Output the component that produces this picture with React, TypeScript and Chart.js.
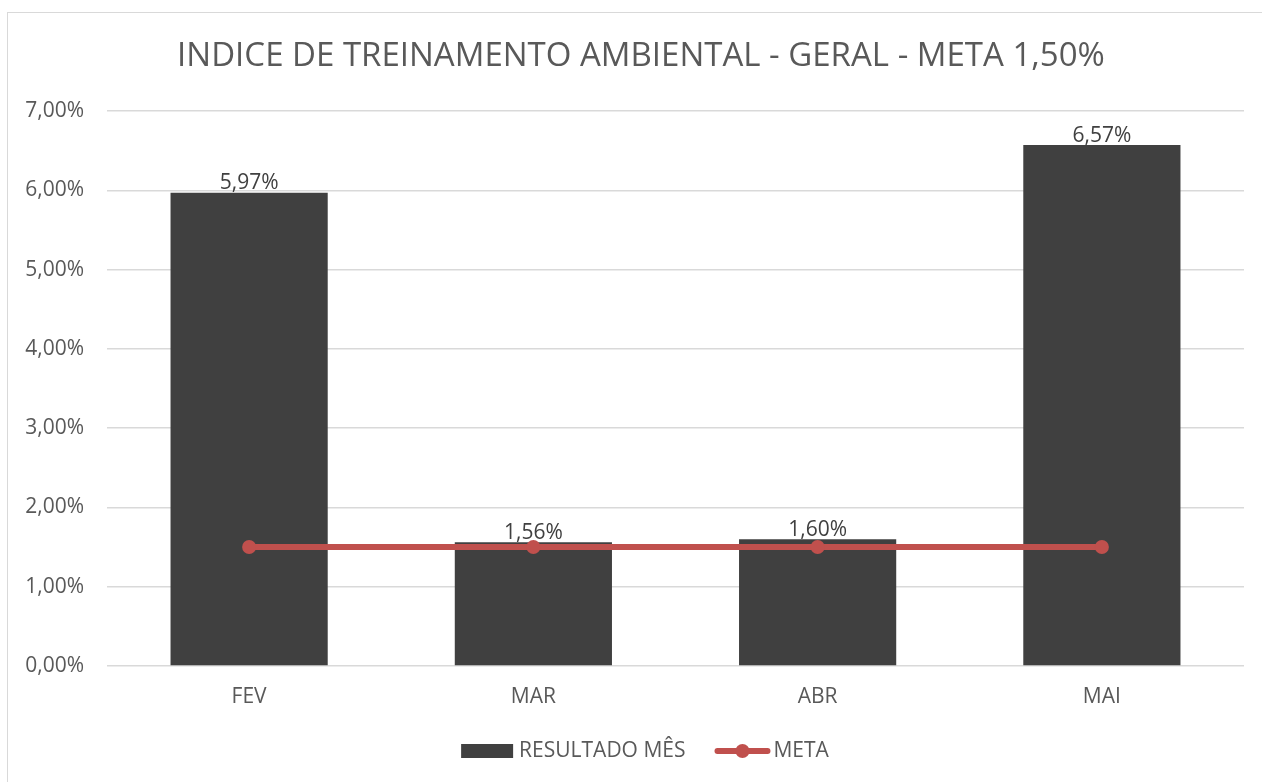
import React, { useEffect, useRef } from "react";
import { Chart, registerables } from "chart.js";

Chart.register(...registerables);

const TITLE = "INDICE DE TREINAMENTO AMBIENTAL - GERAL - META 1,50%";
const categories = ["FEV", "MAR", "ABR", "MAI"];
const resultadoMes = [5.97, 1.56, 1.6, 6.57];
const meta = [1.5, 1.5, 1.5, 1.5];
const yTicks = [0, 1, 2, 3, 4, 5, 6, 7];

const BAR_COLOR = "#404040";
const LINE_COLOR = "#C0504D";
const TEXT_COLOR = "#595959";
const GRID_COLOR = "#D9D9D9";
const FONT = "'Open Sans', 'Noto Sans', sans-serif";

const fmt = (v: number) => v.toFixed(2).replace(".", ",") + "%";

const titlePlugin = {
  id: "centeredTitle",
  afterDraw(chart: any) {
    const ctx = chart.ctx;
    const tb = chart.titleBlock;
    const y = tb ? tb.top + 37 + 19.8 : 56.8;
    ctx.save();
    ctx.font = `33px ${FONT}`;
    ctx.fillStyle = TEXT_COLOR;
    ctx.textAlign = "center";
    ctx.textBaseline = "middle";
    ctx.fillText(TITLE, 641, y);
    ctx.restore();
  },
};

const dataLabelPlugin = {
  id: "dataLabels",
  afterDatasetDraw(chart: any, args: any) {
    if (args.index !== 0) return;
    const ctx = chart.ctx;
    const meta0 = chart.getDatasetMeta(0);
    ctx.save();
    ctx.font = `21px ${FONT}`;
    ctx.fillStyle = BAR_COLOR;
    ctx.textAlign = "center";
    ctx.textBaseline = "bottom";
    meta0.data.forEach((el: any, i: number) => {
      ctx.fillText(fmt(resultadoMes[i]), el.x, el.y + 1);
    });
    ctx.restore();
  },
};

const legendPlugin = {
  id: "customLegend",
  afterDraw(chart: any) {
    const ctx = chart.ctx;
    const y = 751;
    ctx.save();
    ctx.font = `21px ${FONT}`;
    ctx.textBaseline = "middle";
    ctx.textAlign = "left";
    const l0 = chart.data.datasets[0].label;
    const l1 = chart.data.datasets[1].label;
    const w0 = ctx.measureText(l0).width;
    const w1 = ctx.measureText(l1).width;
    const total = 52 + 6 + w0 + 29 + 56 + 3 + w1;
    let x = 645 - total / 2;
    ctx.fillStyle = BAR_COLOR;
    ctx.fillRect(x, y - 7, 52, 14);
    x += 58;
    ctx.fillStyle = TEXT_COLOR;
    ctx.fillText(l0, x, y);
    x += w0 + 29;
    ctx.strokeStyle = LINE_COLOR;
    ctx.lineWidth = 6;
    ctx.lineCap = "round";
    ctx.beginPath();
    ctx.moveTo(x + 3, y);
    ctx.lineTo(x + 53, y);
    ctx.stroke();
    ctx.fillStyle = LINE_COLOR;
    ctx.beginPath();
    ctx.arc(x + 28, y, 7, 0, Math.PI * 2);
    ctx.fill();
    x += 59;
    ctx.fillStyle = TEXT_COLOR;
    ctx.fillText(l1, x, y);
    ctx.restore();
  },
};

export default function App() {
  const canvasRef = useRef<HTMLCanvasElement | null>(null);

  useEffect(() => {
    document.body.style.margin = "0";
    const canvas = canvasRef.current;
    if (!canvas) return;
    const chart = new Chart(canvas, {
      type: "bar",
      data: {
        labels: categories,
        datasets: [
          {
            type: "bar",
            label: "RESULTADO MÊS",
            data: resultadoMes,
            backgroundColor: BAR_COLOR,
            barPercentage: 0.553,
            categoryPercentage: 1,
            order: 2,
          },
          {
            type: "line",
            label: "META",
            data: meta,
            borderColor: LINE_COLOR,
            backgroundColor: LINE_COLOR,
            borderWidth: 6,
            pointRadius: 7,
            pointBorderWidth: 0,
            pointBackgroundColor: LINE_COLOR,
            pointBorderColor: LINE_COLOR,
            order: 1,
          } as any,
        ],
      },
      options: {
        responsive: true,
        maintainAspectRatio: false,
        animation: false,
        layout: { padding: { top: 0, right: 18, bottom: 66, left: 0 } },
        plugins: {
          legend: { display: false },
          tooltip: { enabled: false },
          title: {
            display: true,
            text: TITLE,
            color: "rgba(0,0,0,0)",
            font: { family: FONT, size: 33, weight: "normal", lineHeight: 1.2 },
            padding: { top: 37, bottom: 34.4 },
          },
        },
        scales: {
          x: {
            grid: { display: false, drawTicks: false },
            border: { display: false },
            ticks: {
              color: TEXT_COLOR,
              font: { family: FONT, size: 21 },
              padding: 18,
            },
            afterFit: (s: any) => {
              s.height = 50;
            },
          },
          y: {
            min: 0,
            max: 7,
            afterBuildTicks: (s: any) => {
              s.ticks = yTicks.map((v) => ({ value: v }));
            },
            grid: { color: GRID_COLOR, lineWidth: 1.5, drawTicks: false },
            border: { display: false },
            ticks: {
              color: TEXT_COLOR,
              font: { family: FONT, size: 21 },
              padding: 23,
              callback: (v: any) => fmt(Number(v)),
            },
            afterFit: (s: any) => {
              s.width = 107;
            },
          },
        },
      },
      plugins: [titlePlugin, dataLabelPlugin, legendPlugin],
    });
    return () => chart.destroy();
  }, []);

  return (
    <div style={{ position: "relative", width: 1262, height: 782, background: "#fff" }}>
      <div
        style={{
          position: "absolute",
          left: 7,
          top: 12,
          width: 1255,
          height: 770,
          borderLeft: "1.5px solid #D9D9D9",
          borderTop: "1.5px solid #D9D9D9",
          boxSizing: "border-box",
          pointerEvents: "none",
        }}
      />
      <canvas ref={canvasRef} style={{ position: "absolute", left: 0, top: 0 }} />
    </div>
  );
}
